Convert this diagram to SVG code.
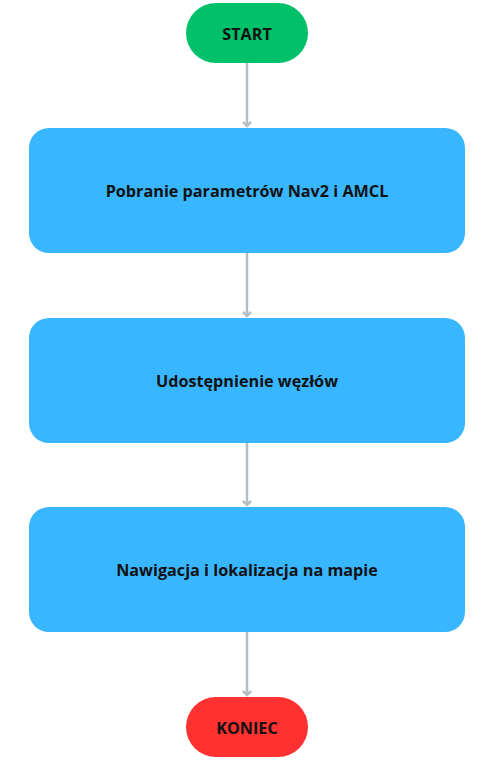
<svg xmlns="http://www.w3.org/2000/svg" width="496" height="774" viewBox="0 0 496 774">
<style>
.t{font-family:"Open Sans",sans-serif;font-weight:bold;font-size:16.2px;fill:#111;text-anchor:middle;dominant-baseline:central}
.c{stroke:#b3bec6;stroke-width:2.5;fill:none}
.box{fill:#38b6ff}
</style>
<defs>
<marker id="a" markerWidth="10" markerHeight="10" refX="5" refY="5" orient="auto" markerUnits="userSpaceOnUse">
<path d="M1,1 L5,5 L1,9" fill="none" stroke="#b3bec6" stroke-width="2.5"/>
</marker>
</defs>
<rect width="496" height="774" fill="#fff"/>
<g id="connectors">
<line class="c" x1="247" y1="63" x2="247" y2="126" marker-end="url(#a)"/>
<line class="c" x1="247" y1="253" x2="247" y2="316" marker-end="url(#a)"/>
<line class="c" x1="247" y1="443" x2="247" y2="505" marker-end="url(#a)"/>
<line class="c" x1="247" y1="632" x2="247" y2="695" marker-end="url(#a)"/>
</g>
<g id="start">
<rect x="186" y="3" width="122" height="60" rx="30" fill="#00c16a"/>
<text class="t" x="247" y="34">START</text>
</g>
<g id="n1">
<rect class="box" x="29" y="128" width="436" height="125" rx="20"/>
<text class="t" x="247" y="191">Pobranie parametrów Nav2 i AMCL</text>
</g>
<g id="n2">
<rect class="box" x="29" y="318" width="436" height="125" rx="20"/>
<text class="t" x="247" y="381">Udostępnienie węzłów</text>
</g>
<g id="n3">
<rect class="box" x="29" y="507" width="436" height="125" rx="20"/>
<text class="t" x="247" y="570">Nawigacja i lokalizacja na mapie</text>
</g>
<g id="end">
<rect x="186" y="697" width="122" height="60" rx="30" fill="#ff3131"/>
<text class="t" x="247" y="728">KONIEC</text>
</g>
</svg>
